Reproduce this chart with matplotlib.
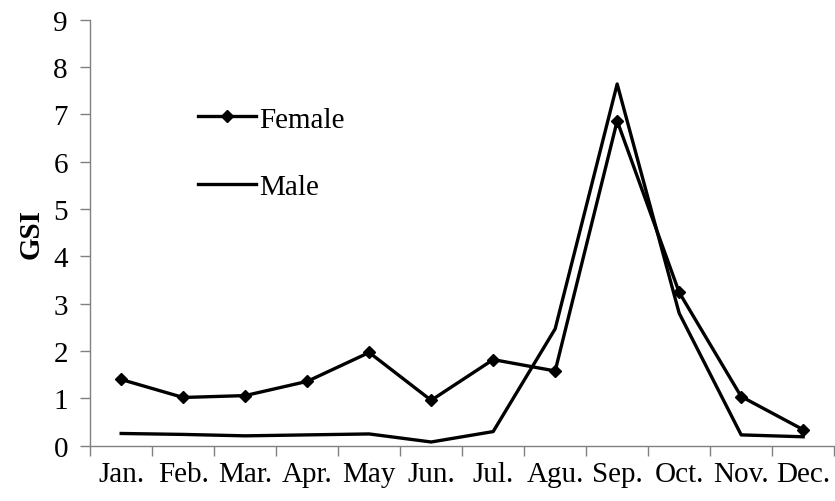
import matplotlib.pyplot as plt
import numpy as np

# GSI values
months = ['Jan.', 'Feb.', 'Mar.', 'Apr.', 'May', 'Jun.', 'Jul.', 'Agu.',
          'Sep.', 'Oct.', 'Nov.', 'Dec.']
female = [1.40, 1.02, 1.06, 1.36, 1.97, 0.96, 1.82, 1.58, 6.86, 3.24, 1.04, 0.34]
male = [0.26, 0.24, 0.21, 0.23, 0.25, 0.08, 0.30, 2.47, 7.64, 2.80, 0.23, 0.19]

plt.rcParams['font.family'] = ['Liberation Serif', 'DejaVu Serif']

fig = plt.figure(figsize=(8.35, 5.02), dpi=100)
ax = fig.add_axes([0.108, 0.110, 0.891, 0.849])

x = np.arange(len(months))
ax.plot(x, female, color='black', linewidth=2.4, marker='D', markersize=6,
        label='Female')
ax.plot(x, male, color='black', linewidth=2.4, label='Male')

ax.set_xlim(-0.5, len(months) - 0.5)
ax.set_ylim(0, 9)
ax.set_yticks(range(0, 10))

# month labels at centres, tick marks between categories
ax.set_xticks(x)
ax.set_xticklabels(months)
ax.set_xticks(np.arange(-0.5, len(months)), minor=True)
ax.tick_params(axis='x', which='major', length=0, pad=11, labelsize=21)
ax.tick_params(axis='x', which='minor', length=7, color='#808080', width=1)
ax.tick_params(axis='y', length=7, color='#808080', width=1, pad=9, labelsize=21)

for side in ['top', 'right']:
    ax.spines[side].set_visible(False)
for side in ['left', 'bottom']:
    ax.spines[side].set_color('#808080')
    ax.spines[side].set_linewidth(1)

ax.set_ylabel('GSI', fontsize=21, fontweight='bold', labelpad=6)

ax.legend(loc='upper left', bbox_to_anchor=(0.145, 0.797), frameon=False,
          borderpad=0, borderaxespad=0,
          fontsize=21, handlelength=2.0, handletextpad=0.1, labelspacing=1.4)

fig.savefig('out.png', dpi=100)
